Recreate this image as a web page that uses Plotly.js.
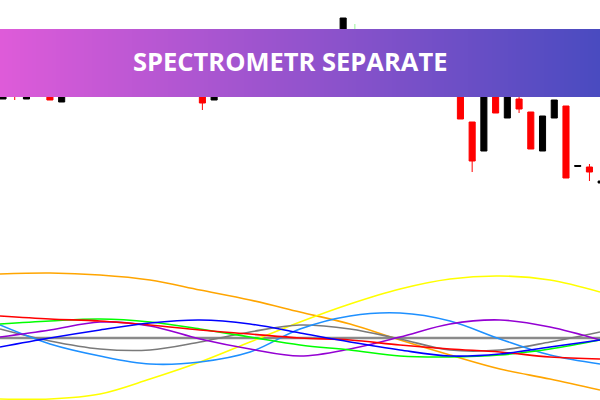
<!DOCTYPE html>
<html>
<head>
<meta charset="utf-8">
<script src="https://cdn.plot.ly/plotly-3.0.1.min.js"></script>
<style>html,body{margin:0;padding:0;background:#fff;}#chart{width:600px;height:400px;}</style>
</head>
<body>
<div id="chart"></div>
<script>
// ---- candles (bar index, price in points) ----
var barIndex = [];
for (var k = 0; k < 52; k++) barIndex.push(k);
var openP  = [101,114,101,109,107,98,112,122,118,132,128,124,138,134,122,114,120,110,100,116,124,121,135,140,136,148,145,156,153,160,166,168,158,152,144,148,136,126,134,120,78,49,125,82,101,88,49,82,94,33.5,33,17];
var highP  = [115,118,112,113,110,114,126,130,134,140,136,142,145,138,130,124,122,114,120,128,132,138,144,148,152,156,160,164,166,182,176,170,165,160,150,152,144,138,140,130,78,130,132,140,110,88,84,100,94,34.5,36,19];
var lowP   = [101,100,101,104,100,98,108,115,116,125,120,122,130,118,110,108,105,90,100,112,118,119,130,132,134,142,143,150,151,156,160,155,148,140,134,130,122,120,112,81,28,49,87,82,87,51,49,82,22,33.5,19,17];
var closeP = [112,107,109,106,100,112,122,118,132,128,124,138,134,122,114,120,110,97,116,124,121,135,140,136,148,145,156,153,162,182,168,158,152,144,148,136,126,134,118,81,39,120,87,135,91,51,84,100,22,34.5,28,19];
var greenBars = [30];

// ---- spectrometer components (sample step, value) ----
var sampleStep = [0,1,2,3,4,5,6,7,8,9,10,11,12];
var compOrange = [6.4, 6.5, 6.3, 5.8, 4.8, 3.8, 2.6, 1.4, -0.2, -1.7, -3.1, -4.1, -5.2];
var compYellow = [-6.1, -6.1, -5.6, -4.1, -2.4, -0.4, 1.6, 3.4, 4.9, 5.9, 6.2, 5.8, 4.6];
var compSky    = [1.3, -0.6, -1.8, -2.6, -2.4, -1.4, 0.9, 2.2, 2.5, 1.7, -0.1, -1.7, -2.6];
var compGray   = [0.9, -0.3, -1.1, -1.2, -0.4, 0.6, 1.3, 0.9, -0.1, -1.2, -1.2, -0.4, 0.6];
var compRed    = [2.2, 1.9, 1.7, 1.3, 0.8, 0.4, 0.0, -0.2, -0.7, -1.1, -1.4, -1.9, -2.1];
var compGreen  = [1.4, 1.7, 1.9, 1.6, 0.9, 0.1, -0.7, -1.2, -1.8, -1.9, -1.7, -1.1, -0.2];
var compBlue   = [-0.9, 0.0, 0.8, 1.5, 1.8, 1.4, 0.5, -0.4, -1.2, -1.8, -1.6, -0.9, -0.2];
var compPurple = [0.1, 0.8, 1.6, 1.2, -0.1, -1.1, -1.8, -1.1, 0.1, 1.4, 1.8, 1.1, -0.2];
var zeroLevel  = [0,0,0,0,0,0,0,0,0,0,0,0,0];

var titleText = "SPECTROMETR SEPARATE";

function pick(arr, keep) {
  var out = [];
  for (var i = 0; i < arr.length; i++) if (keep(i)) out.push(arr[i]);
  return out;
}
var isMain = function(i){ return greenBars.indexOf(i) < 0; };
var isGreen = function(i){ return greenBars.indexOf(i) >= 0; };

var traces = [];
traces.push({
  type: 'candlestick', xaxis: 'x', yaxis: 'y',
  x: pick(barIndex, isMain), open: pick(openP, isMain), high: pick(highP, isMain),
  low: pick(lowP, isMain), close: pick(closeP, isMain),
  increasing: {line: {color: '#000000', width: 1}, fillcolor: '#000000'},
  decreasing: {line: {color: '#ff0000', width: 1}, fillcolor: '#ff0000'},
  whiskerwidth: 0, hoverinfo: 'skip'
});
traces.push({
  type: 'candlestick', xaxis: 'x', yaxis: 'y',
  x: pick(barIndex, isGreen), open: pick(openP, isGreen), high: pick(highP, isGreen),
  low: pick(lowP, isGreen), close: pick(closeP, isGreen),
  increasing: {line: {color: '#98f598', width: 1}, fillcolor: '#98f598'},
  decreasing: {line: {color: '#98f598', width: 1}, fillcolor: '#98f598'},
  whiskerwidth: 0, hoverinfo: 'skip'
});

function comp(y, color, w) {
  return {type: 'scatter', mode: 'lines', xaxis: 'x2', yaxis: 'y2', x: sampleStep, y: y,
          line: {color: color, width: w, shape: 'spline', smoothing: 1.0}, hoverinfo: 'skip'};
}
traces.push(comp(zeroLevel, '#8a8a8a', 2.5));
traces.push(comp(compOrange, '#ffa500', 1.6));
traces.push(comp(compYellow, '#ffff00', 1.6));
traces.push(comp(compGray, '#7a7a7a', 1.6));
traces.push(comp(compSky, '#1e90ff', 1.6));
traces.push(comp(compPurple, '#9400d3', 1.6));
traces.push(comp(compGreen, '#00ff00', 1.6));
traces.push(comp(compRed, '#ff0000', 1.6));
traces.push(comp(compBlue, '#0000ff', 1.6));

// gradient banner made of thin strips
var shapes = [];
var c0 = [222, 91, 217], c1 = [74, 75, 192];
var N = 150;
for (var s = 0; s < N; s++) {
  var t = (s + 0.5) / N;
  var col = 'rgb(' + Math.round(c0[0] + (c1[0]-c0[0])*t) + ',' + Math.round(c0[1] + (c1[1]-c0[1])*t) + ',' + Math.round(c0[2] + (c1[2]-c0[2])*t) + ')';
  shapes.push({type: 'rect', xref: 'paper', yref: 'paper', layer: 'above',
    x0: s / N, x1: Math.min(1, (s + 1) / N + 0.002), y0: 1 - 97/400, y1: 1 - 29/400,
    fillcolor: col, line: {width: 0}});
}

var layout = {
  width: 600, height: 400,
  margin: {l: 0, r: 0, t: 0, b: 0, pad: 0},
  paper_bgcolor: '#ffffff', plot_bgcolor: '#ffffff',
  showlegend: false,
  boxgap: 0.28, boxgroupgap: 0.28,
  xaxis: {domain: [0, 1], range: [-0.256, 50.9], visible: false, rangeslider: {visible: false}, fixedrange: true, anchor: 'y'},
  yaxis: {domain: [0.5, 1], range: [0, 200], visible: false, fixedrange: true, anchor: 'x'},
  xaxis2: {domain: [0, 1], range: [0, 12], visible: false, fixedrange: true, anchor: 'y2'},
  yaxis2: {domain: [0, 0.35], range: [-6.2, 7.8], visible: false, fixedrange: true, anchor: 'x2'},
  shapes: shapes,
  annotations: [{
    text: '<b>' + titleText + '</b>', xref: 'paper', yref: 'paper',
    x: 289.5/600, y: 1 - 60.5/400, xanchor: 'center', yanchor: 'middle', showarrow: false,
    font: {family: 'Open Sans, sans-serif', size: 25.5, color: '#ffffff'}
  }]
};

Plotly.newPlot('chart', traces, layout, {staticPlot: true, displayModeBar: false});
</script>
</body>
</html>
